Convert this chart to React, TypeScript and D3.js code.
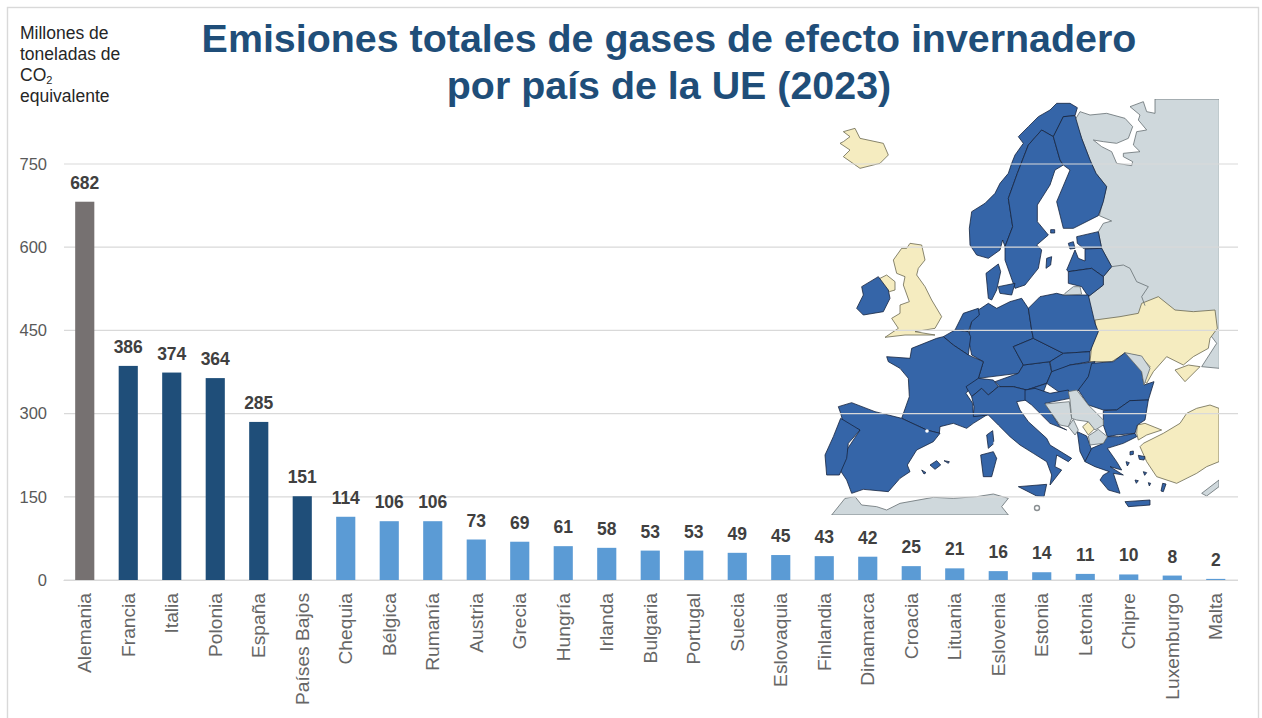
import React, { useEffect, useRef } from "react";
import * as d3 from "d3";

const paises = ["Alemania", "Francia", "Italia", "Polonia", "España", "Países Bajos", "Chequia", "Bélgica", "Rumanía", "Austria", "Grecia", "Hungría", "Irlanda", "Bulgaria", "Portugal", "Suecia", "Eslovaquia", "Finlandia", "Dinamarca", "Croacia", "Lituania", "Eslovenia", "Estonia", "Letonia", "Chipre", "Luxemburgo", "Malta"];
const emisiones = [682, 386, 374, 364, 285, 151, 114, 106, 106, 73, 69, 61, 58, 53, 53, 49, 45, 43, 42, 25, 21, 16, 14, 11, 10, 8, 2];
const ticks = [0, 150, 300, 450, 600, 750];
const tituloEje = ["Millones de", "toneladas de", "CO", "equivalente"];
const titulo = ["Emisiones totales de gases de efecto invernadero", "por país de la UE (2023)"];

// map outlines, traced by hand from four crops of the map (each crop has its own origin, 1/3 scale)
type Pt = [number, number];
type Forma = { c: "fondo" | "otro" | "socio" | "ue"; p: Pt[] };

const norte: Forma[] = [
  { c: "fondo", p: [[585,12],[778,12],[778,820],[725,815],[770,745],[740,705],[400,705],[385,605],[430,570],[430,545],[455,515],[425,460],[415,410],[430,385],[455,378],[418,362],[440,275],[408,235],[390,195],[365,130],[345,75],[360,50],[390,60],[440,55],[495,70],[518,95],[505,130],[470,145],[430,140],[400,135],[425,155],[455,170],[470,205],[515,212],[518,200],[490,185],[490,175],[540,170],[520,150],[530,110],[560,105],[535,75],[540,60],[510,35],[550,20],[560,50],[585,55]] },
  { c: "ue", p: [[352,38],[330,25],[290,25],[270,45],[235,65],[205,95],[175,125],[190,145],[165,180],[155,205],[145,235],[120,265],[105,295],[75,325],[35,350],[28,400],[30,450],[50,480],[85,490],[120,465],[128,435],[135,455],[158,395],[145,310],[172,235],[205,150],[245,105],[280,125],[310,65],[345,62]] },
  { c: "ue", p: [[245,105],[280,125],[300,195],[310,210],[285,225],[270,270],[232,330],[232,380],[265,420],[230,450],[245,465],[235,520],[195,570],[165,580],[135,495],[135,455],[158,395],[145,310],[172,235],[205,150]] },
  { c: "ue", p: [[280,125],[310,65],[345,62],[365,130],[390,195],[408,235],[440,275],[430,320],[415,362],[340,400],[310,400],[290,320],[330,225],[310,210],[300,195]] },
  { c: "ue", p: [[350,425],[415,410],[425,460],[370,460],[352,445]] },
  { c: "ue", p: [[325,445],[340,440],[345,460],[330,462]] },
  { c: "ue", p: [[320,525],[345,465],[355,490],[375,498],[375,462],[425,460],[455,515],[430,545],[395,520],[325,530]] },
  { c: "ue", p: [[325,530],[395,520],[430,545],[430,570],[385,605],[365,575],[325,565]] },
  { c: "ue", p: [[260,490],[275,485],[272,510],[258,520]] },
  { c: "ue", p: [[272,404],[284,404],[284,414],[272,414]] },
  { c: "otro", p: [[315,595],[340,575],[360,575],[365,598],[310,600]] },
];

const oeste: Forma[] = [
  { c: "ue", p: [[408,100],[445,72],[452,95],[440,150],[425,180],[415,175]] },
  { c: "ue", p: [[445,140],[495,130],[485,165],[450,160]] },
  { c: "ue", p: [[415,190],[440,205],[480,185],[515,175],[535,205],[545,270],[550,295],[490,320],[520,375],[505,400],[385,415],[400,365],[365,345],[355,295],[365,240],[385,210]] },
  { c: "ue", p: [[315,270],[340,220],[385,205],[388,225],[365,245],[355,275],[340,270]] },
  { c: "ue", p: [[280,290],[315,270],[355,275],[362,290],[355,345],[310,315]] },
  { c: "ue", p: [[110,350],[180,355],[185,325],[260,295],[280,290],[310,315],[355,345],[400,365],[385,415],[348,460],[368,490],[370,525],[410,525],[370,550],[350,565],[310,550],[270,560],[268,580],[230,570],[155,535],[178,470],[175,415],[150,385],[115,365]] },
  { c: "ue", p: [[348,440],[385,415],[430,420],[445,440],[415,465],[395,445],[365,470]] },
  { c: "ue", p: [[435,425],[505,400],[520,375],[598,365],[605,395],[590,430],[530,450],[490,440],[450,440]] },
  { c: "ue", p: [[490,320],[550,295],[640,340],[600,365],[520,375]] },
  { c: "ue", p: [[535,205],[570,170],[620,160],[640,165],[690,165],[715,165],[735,250],[745,275],[720,335],[640,340],[550,295],[545,270]] },
  { c: "ue", p: [[600,365],[640,340],[720,335],[718,365],[660,375],[620,395],[605,395]] },
  { c: "ue", p: [[605,395],[660,375],[735,365],[715,410],[690,450],[640,465],[590,430]] },
  { c: "ue", p: [[530,450],[590,430],[575,470],[530,480]] },
  { c: "ue", p: [[20,205],[40,165],[35,140],[85,110],[115,150],[120,175],[100,215],[40,225]] },
  { c: "socio", p: [[80,120],[110,105],[135,125],[135,150],[118,155]] },
  { c: "socio", p: [[170,25],[180,10],[215,15],[225,60],[205,85],[200,105],[225,140],[245,180],[275,230],[255,265],[195,275],[255,285],[165,285],[105,292],[145,265],[125,235],[150,220],[150,195],[178,185],[160,135],[165,110],[140,100],[130,60],[155,25]] },
];

const sur: Forma[] = [
  { c: "otro", p: [[35,375],[75,325],[105,320],[125,345],[170,350],[200,360],[240,340],[340,322],[400,325],[470,320],[520,312],[565,325],[545,350],[565,375]] },
  { c: "ue", p: [[55,50],[95,38],[165,65],[245,85],[320,120],[360,130],[340,155],[290,180],[262,225],[270,245],[240,265],[205,305],[130,298],[95,310],[80,270],[60,240],[80,180],[120,120],[70,100],[62,70]] },
  { c: "ue", p: [[62,85],[120,120],[85,160],[80,205],[58,255],[20,255],[15,195],[40,140]] },
  { c: "ue", p: [[330,225],[350,212],[362,225],[345,238]] },
  { c: "ue", p: [[372,212],[388,215],[385,220]] },
  { c: "ue", p: [[305,240],[318,248],[312,252]] },
  { c: "ue", p: [[500,135],[518,122],[522,160],[505,175]] },
  { c: "ue", p: [[482,195],[520,185],[530,205],[515,260],[490,260]] },
  { c: "ue", p: [[595,290],[680,283],[672,320],[650,318]] },
  { c: "ue", p: [[455,20],[485,-5],[505,15],[535,-10],[580,-10],[620,0],[620,30],[590,35],[600,60],[625,95],[680,145],[690,165],[755,205],[745,215],[710,195],[705,230],[725,240],[690,285],[695,255],[680,215],[640,190],[600,165],[570,140],[535,105],[505,75],[460,80],[462,50]] },
];

const este: Forma[] = [
  { c: "socio", p: [[225,-30],[300,-40],[355,-50],[365,-80],[415,-100],[465,-60],[520,-55],[585,-60],[592,-5],[570,25],[565,55],[520,80],[490,105],[440,80],[400,125],[380,160],[370,150],[390,110],[360,78],[315,70],[275,95],[210,95],[215,50],[230,10]] },
  { c: "socio", p: [[465,120],[505,105],[540,110],[495,155]] },
  { c: "socio", p: [[500,250],[530,235],[570,225],[597,235],[597,395],[560,410],[530,430],[470,460],[410,440],[380,395],[360,350],[370,340],[430,310],[480,280]] },
  { c: "socio", p: [[352,285],[375,280],[425,300],[380,315],[355,330],[350,310]] },
  { c: "ue", p: [[15,180],[45,175],[90,190],[145,180],[150,205],[75,220],[120,290],[140,300],[90,280],[35,225],[15,210]] },
  { c: "ue", p: [[172,305],[200,318],[215,360],[195,395],[180,365]] },
  { c: "ue", p: [[215,100],[280,95],[315,68],[365,125],[372,165],[402,155],[385,210],[330,212],[290,240],[250,240],[205,225],[175,180],[205,140]] },
  { c: "ue", p: [[250,242],[290,240],[330,212],[385,210],[375,270],[352,285],[345,310],[290,315],[262,320],[250,285]] },
  { c: "ue", p: [[215,355],[250,340],[262,320],[295,320],[345,310],[350,320],[310,340],[262,355],[290,395],[305,420],[270,410],[310,435],[280,430],[300,490],[265,480],[240,450],[250,435],[268,425],[225,410],[195,395]] },
  { c: "ue", p: [[315,515],[390,510],[390,525],[325,530]] },
  { c: "ue", p: [[355,376],[375,380],[372,390],[358,388]] },
  { c: "ue", p: [[428,460],[438,462],[430,485],[423,483]] },
  { c: "ue", p: [[330,365],[340,363],[340,373],[330,375]] },
  { c: "ue", p: [[318,395],[328,398],[322,408]] },
  { c: "ue", p: [[370,425],[380,428],[374,436]] },
  { c: "ue", p: [[345,450],[355,452],[349,460]] },
  { c: "ue", p: [[385,458],[392,460],[388,468]] },
  { c: "otro", p: [[315,68],[365,78],[390,115],[372,165],[365,125]] },
  { c: "otro", p: [[75,222],[148,215],[155,265],[145,290],[120,285]] },
  { c: "otro", p: [[145,185],[170,180],[205,225],[250,270],[250,285],[225,300],[205,275],[170,270],[155,265],[150,210]] },
  { c: "otro", p: [[145,290],[160,268],[175,300],[165,315]] },
  { c: "otro", p: [[205,318],[235,298],[262,320],[250,340],[210,345]] },
  { c: "otro", p: [[545,490],[597,450],[597,470],[560,498]] },
  { c: "socio", p: [[188,290],[205,275],[225,295],[205,315]] },
];

const islandia: Forma[] = [
  { c: "socio", p: [[130,155],[150,140],[130,125],[165,115],[180,145],[250,160],[265,195],[240,220],[180,235],[130,200],[150,180],[120,160]] },
];

const marcos: [Forma[], number, number][] = [[norte, 960, 95], [oeste, 850, 240], [sur, 820, 390], [este, 1020, 330], [islandia, 800, 90]];
const rellenos = { fondo: "#cfd8dc", otro: "#cfd8dc", socio: "#f5ecc0", ue: "#3565a8" };
const trazos = { fondo: "#666e72", otro: "#666e72", socio: "#6b6850", ue: "#16243f" };
const ordenCapas: Forma["c"][] = ["fondo", "socio", "ue", "otro"];
const frontera: Pt[] = [[455,515],[490,510],[510,520],[530,560],[565,575],[545,605],[555,632]];
const puntosBlancos: Pt[] = [[927,431], [1020,476], [995,443]];

const App = () => {
  const ref = useRef<SVGSVGElement>(null);

  useEffect(() => {
    const width = 1262;
    const height = 718;
    const font = "'Liberation Sans', Arial, sans-serif";
    const svg = d3.select(ref.current);
    svg.selectAll("*").remove();

    svg.append("rect").attr("width", width).attr("height", height).attr("fill", "#fff");
    svg.append("rect").attr("x", 7.5).attr("y", 7.5).attr("width", 1251).attr("height", 720)
      .attr("fill", "none").attr("stroke", "#d9d9d9").attr("stroke-width", 1.4);

    const x = d3.scaleBand().domain(paises).range([63, 1237.5]).paddingInner(0.56).paddingOuter(0.28);
    const y = d3.scaleLinear().domain([0, 750]).range([580, 164]);

    // map sits under the gridlines
    const defs = svg.append("defs");
    defs.append("filter").attr("id", "suave").append("feGaussianBlur").attr("stdDeviation", 0.5);
    defs.append("clipPath").attr("id", "corte").append("rect").attr("x", 800).attr("y", 99).attr("width", 419).attr("height", 416);
    const mapa = svg.append("g").attr("filter", "url(#suave)").attr("clip-path", "url(#corte)");
    const enMarco = (x0: number, y0: number) => d3.line<Pt>().x(d => x0 + d[0] / 3).y(d => y0 + d[1] / 3);
    ordenCapas.forEach(capa => {
      marcos.forEach(([formas, x0, y0]) => {
        const linea = enMarco(x0, y0);
        mapa.append("g").selectAll("path").data(formas.filter(f => f.c === capa)).enter().append("path")
          .attr("d", d => linea(d.p) + "Z")
          .attr("fill", rellenos[capa]).attr("stroke", trazos[capa])
          .attr("stroke-width", 0.8).attr("stroke-linejoin", "round");
      });
    });
    mapa.append("path").attr("d", enMarco(960, 95)(frontera)).attr("fill", "none").attr("stroke", "#666e72").attr("stroke-width", 0.8);
    mapa.append("g").selectAll("circle").data(puntosBlancos).enter().append("circle")
      .attr("cx", d => d[0]).attr("cy", d => d[1]).attr("r", 1.8).attr("fill", "#fff");
    mapa.append("circle").attr("cx", 1037).attr("cy", 508).attr("r", 2.5)
      .attr("fill", "#fff").attr("stroke", "#8a8f92").attr("stroke-width", 1.4);

    svg.append("g").selectAll("line").data(ticks).enter().append("line")
      .attr("x1", 64).attr("x2", 1238).attr("y1", d => y(d)).attr("y2", d => y(d))
      .attr("stroke", "#d9d9d9").attr("stroke-width", 1.2);

    const yAxis = svg.append("g").attr("transform", "translate(64,0)")
      .call(d3.axisLeft(y).tickValues(ticks).tickSize(0).tickPadding(17));
    yAxis.select(".domain").remove();
    yAxis.selectAll("text").attr("fill", "#595959").style("font", `16.5px ${font}`);

    const xAxis = svg.append("g").attr("transform", "translate(0,580)")
      .call(d3.axisBottom(x).tickSize(0));
    xAxis.select(".domain").attr("stroke", "#d9d9d9");
    xAxis.selectAll("text")
      .attr("fill", "#666666")
      .style("font", `19.2px ${font}`)
      .attr("text-anchor", "end")
      .attr("transform", "rotate(-90)")
      .attr("x", -13).attr("y", 0).attr("dy", "0.35em");

    const color = (i: number) => (i === 0 ? "#767171" : i < 6 ? "#1f4e79" : "#5b9bd5");
    svg.append("g").selectAll("rect").data(emisiones).enter().append("rect")
      .attr("x", (_, i) => x(paises[i])!)
      .attr("y", d => y(d))
      .attr("width", x.bandwidth())
      .attr("height", d => y(0) - y(d))
      .attr("fill", (_, i) => color(i));

    svg.append("g").selectAll("text").data(emisiones).enter().append("text")
      .attr("x", (_, i) => x(paises[i])! + x.bandwidth() / 2)
      .attr("y", d => y(d) - 13)
      .attr("text-anchor", "middle")
      .attr("fill", "#404040")
      .style("font", `bold 17.5px ${font}`)
      .text(d => d);

    svg.append("g").selectAll("text").data(titulo).enter().append("text")
      .attr("x", 669).attr("y", (_, i) => 52 + i * 47)
      .attr("text-anchor", "middle").attr("fill", "#1f4e79")
      .style("font", `bold 39.4px ${font}`)
      .text(d => d);

    const eje = svg.append("g").style("font", `17.5px ${font}`).attr("fill", "#262626");
    tituloEje.forEach((t, i) => {
      const txt = eje.append("text").attr("x", 20).attr("y", 39 + i * 21).text(t);
      if (t === "CO") txt.append("tspan").attr("dy", 3).style("font-size", "11px").text("2");
    });
  }, []);

  return <svg ref={ref} width={1262} height={718} style={{ position: "absolute", left: 0, top: 0 }}></svg>;
};

export default App;
